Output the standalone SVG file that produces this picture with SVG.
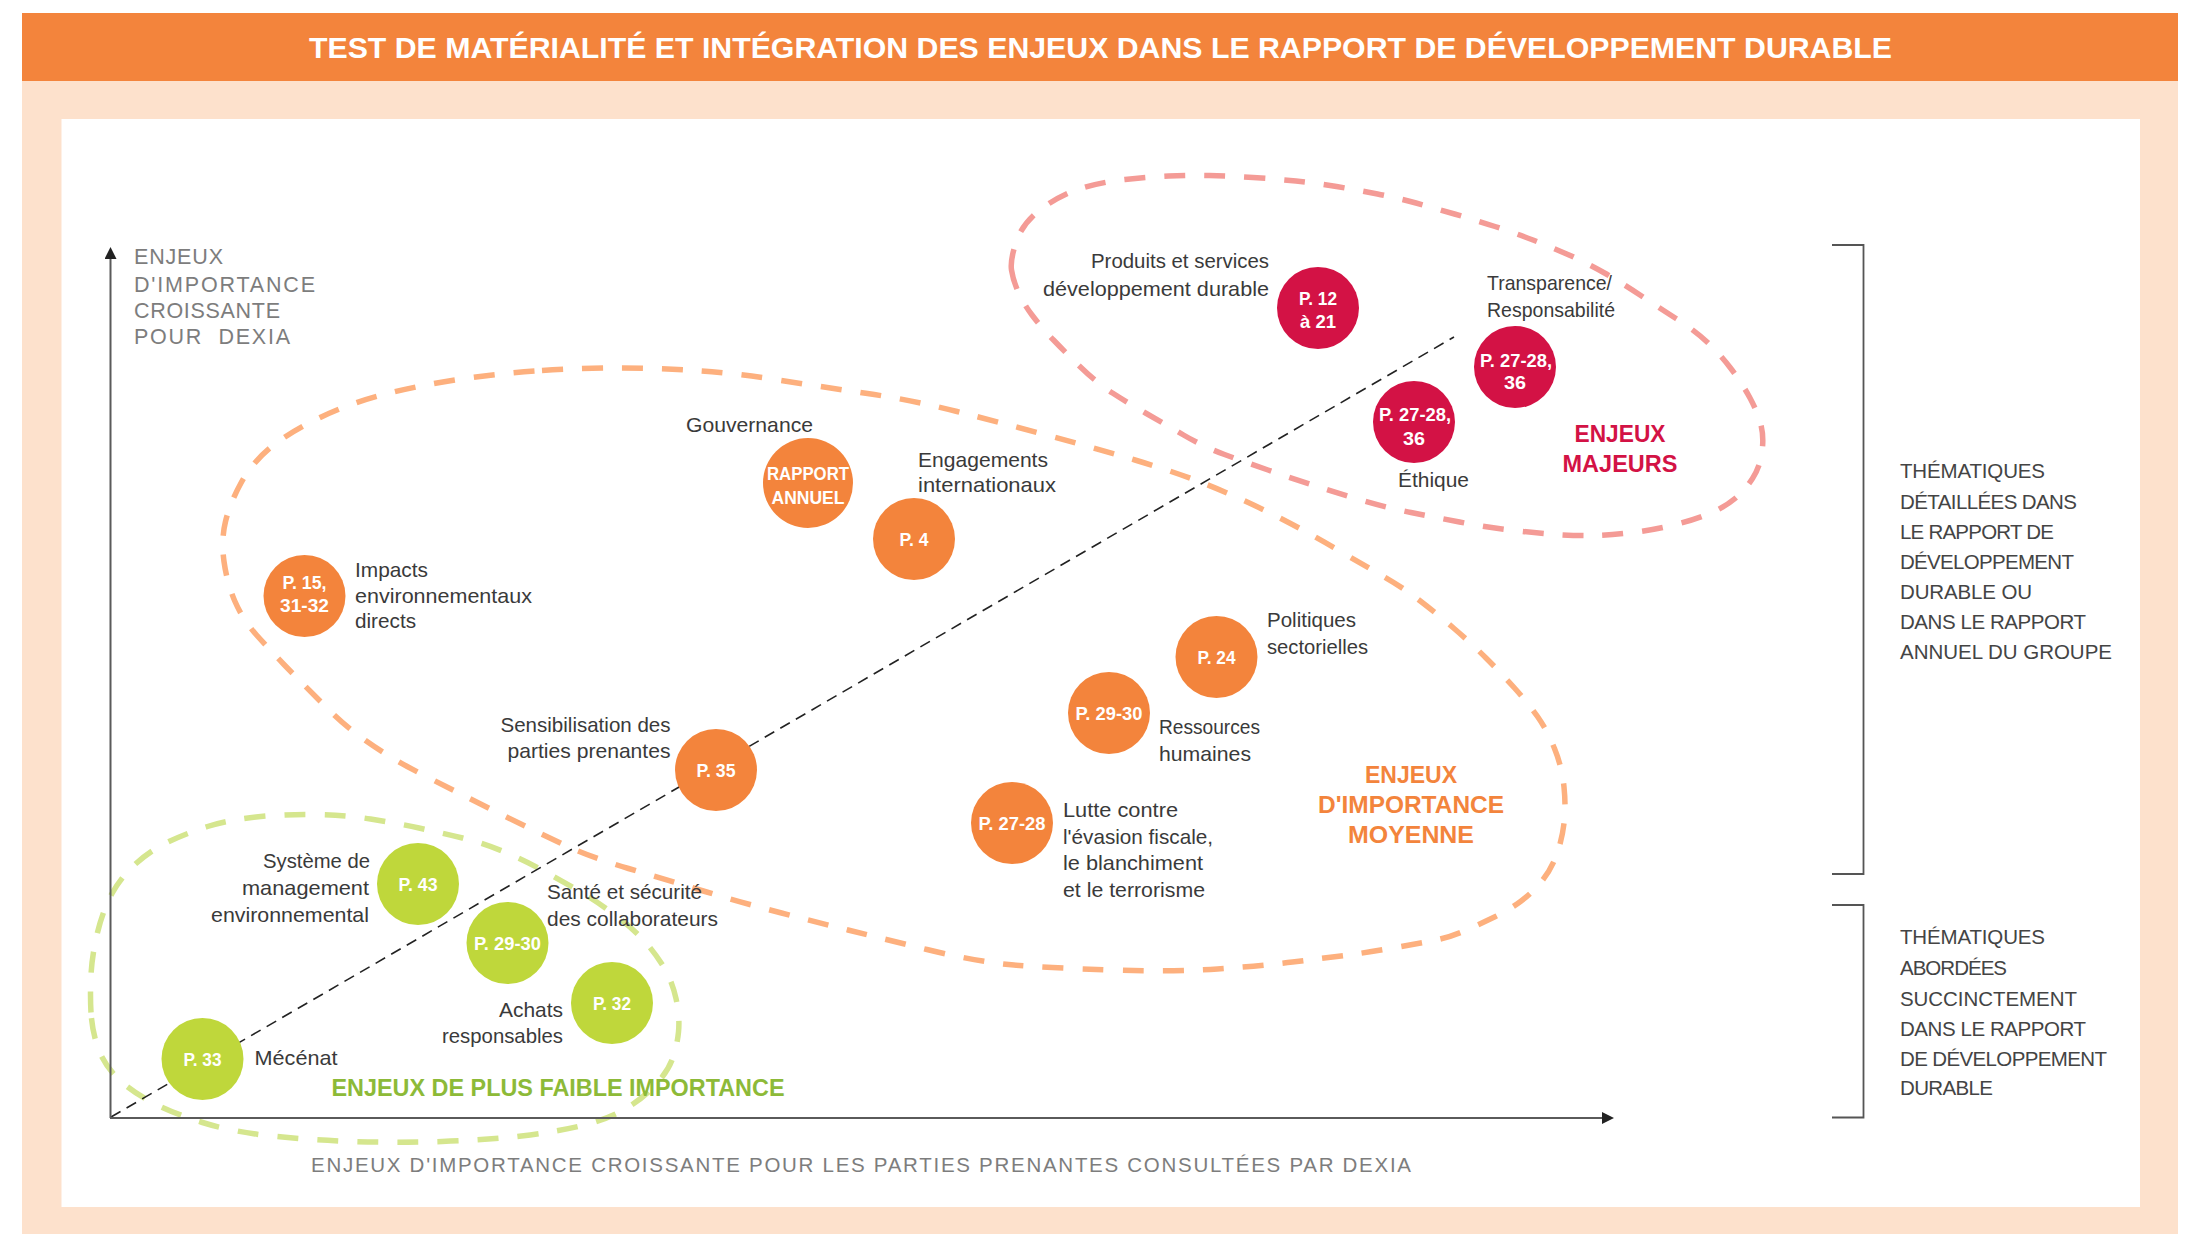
<svg xmlns="http://www.w3.org/2000/svg" width="2192" height="1234" viewBox="0 0 2192 1234">
<style>
.lbl{font-family:"Liberation Sans",Arial,sans-serif;font-size:21px;fill:#3a3a3a}
.ct{font-family:"Liberation Sans",Arial,sans-serif;font-size:19px;font-weight:bold;fill:#ffffff;text-anchor:middle}
.grp{font-family:"Liberation Sans",Arial,sans-serif;font-size:24px;font-weight:bold;text-anchor:middle}
.ax{font-family:"Liberation Sans",Arial,sans-serif;font-size:21.5px;fill:#7d7d7d}
.rt{font-family:"Liberation Sans",Arial,sans-serif;font-size:20.5px;fill:#444444}
.blob{fill:none;stroke-width:5.5;stroke-dasharray:21 19}
.red{fill:#D31245}
.org{fill:#F3843C}
.grn{fill:#BFD73B}
</style>
<defs>
<marker id="arr" viewBox="0 0 12 12" refX="0" refY="6" markerWidth="12" markerHeight="12" markerUnits="userSpaceOnUse" orient="auto"><path d="M0,0 L12,6 L0,12 Z" fill="#222"/></marker>
</defs>
<rect x="0" y="0" width="2192" height="1234" fill="#ffffff"/>
<rect x="22" y="81" width="2156" height="1153" fill="#FDE1CC"/>
<rect x="22" y="13" width="2156" height="68" fill="#F3843C"/>
<rect x="61.5" y="119" width="2078.5" height="1088" fill="#ffffff"/>
<text x="309" y="58" textLength="1583" lengthAdjust="spacingAndGlyphs" style="font-family:'Liberation Sans',Arial,sans-serif;font-size:29px;font-weight:bold;fill:#ffffff">TEST DE MATÉRIALITÉ ET INTÉGRATION DES ENJEUX DANS LE RAPPORT DE DÉVELOPPEMENT DURABLE</text>

<g id="zones">
<path id="zone-moyenne" class="blob" stroke="#FDB07E" d="M542,370.5 Q582,368 620,368 Q658,368 696,370.5 Q734,373 778.5,380 Q823,387 867.5,393.5 Q912,400 957,411.5 Q1002,423 1052,436.5 Q1102,450 1135,460 Q1168,470 1191,478.5 Q1214,487 1239.5,498.5 Q1265,510 1290.5,523.5 Q1316,537 1341.5,552 Q1367,567 1384.5,577 Q1402,587 1419,600 Q1436,613 1453.5,628 Q1471,643 1486,658 Q1501,673 1514.5,688 Q1528,703 1537.5,716.5 Q1547,730 1554.5,748.5 Q1562,767 1564,787 Q1566,807 1564,823.5 Q1562,840 1556.5,855 Q1551,870 1541.5,881.5 Q1532,893 1520.5,901.5 Q1509,910 1495.5,916.5 Q1482,923 1466.5,930 Q1451,937 1436,940 Q1421,943 1392.5,948 Q1364,953 1344.5,955.5 Q1325,958 1292.5,962 Q1260,966 1217.5,969 Q1175,972 1112.5,970 Q1050,968 1014,965 Q978,962 927,949.5 Q876,937 848,930 Q820,923 781.5,913 Q743,903 705,891.5 Q667,880 628.5,868.5 Q590,857 564.5,845 Q539,833 508.5,818 Q478,803 420.5,773.5 Q363,744 329.5,710.5 Q296,677 283,663.5 Q270,650 256.5,635 Q243,620 235,601.5 Q227,583 224,561.5 Q221,540 225.5,521.5 Q230,503 241,483 Q252,463 270,448 Q288,433 319,418 Q350,403 385.5,394 Q421,385 461.5,379 Q502,373 542,370.5 Z"/>
<path id="zone-majeurs" class="blob" stroke="#F49B96" d="M1011.5,270 Q1010,260 1016.5,241 Q1023,222 1042.5,208 Q1062,194 1082,188 Q1102,182 1125,179.5 Q1148,177 1168.5,176 Q1189,175 1209.5,175.5 Q1230,176 1253,177.5 Q1276,179 1296,181 Q1316,183 1336.5,186.5 Q1357,190 1377.5,194 Q1398,198 1416,203 Q1434,208 1454.5,214 Q1475,220 1495,226.5 Q1515,233 1533,240 Q1551,247 1569,255 Q1587,263 1604.5,273 Q1622,283 1640,295 Q1658,307 1676,318.5 Q1694,330 1706.5,341.5 Q1719,353 1730.5,368 Q1742,383 1750,398 Q1758,413 1761,425 Q1764,437 1762,452 Q1760,467 1752.5,478.5 Q1745,490 1735,498.5 Q1725,507 1709.5,513.5 Q1694,520 1673.5,525 Q1653,530 1632.5,532.5 Q1612,535 1594.5,535.5 Q1577,536 1556.5,534.5 Q1536,533 1510.5,530 Q1485,527 1459.5,522 Q1434,517 1411,512.5 Q1388,508 1362.5,500.5 Q1337,493 1314,485.5 Q1291,478 1268,470 Q1245,462 1224.5,454.5 Q1204,447 1183.5,435 Q1163,423 1145.5,413 Q1128,403 1112.5,393 Q1097,383 1081.5,368 Q1066,353 1053.5,340 Q1041,327 1032,315 Q1023,303 1018,291.5 Q1013,280 1011.5,270 Z"/>
<path id="zone-faible" class="blob" stroke="#D5E68E" d="M91,1012.5 Q90,995 91,975 Q92,955 97.5,932.5 Q103,910 112,893.5 Q121,877 136,863.5 Q151,850 169,841.5 Q187,833 207.5,826.5 Q228,820 256,817 Q284,814 314.5,814.5 Q345,815 370.5,819 Q396,823 419,828 Q442,833 462.5,838 Q483,843 503.5,851.5 Q524,860 542,870 Q560,880 577.5,890 Q595,900 613,913.5 Q631,927 642,938.5 Q653,950 662.5,965 Q672,980 676,998.5 Q680,1017 678.5,1032 Q677,1047 672,1060 Q667,1073 654,1086.5 Q641,1100 623.5,1110 Q606,1120 580.5,1126 Q555,1132 521.5,1136 Q488,1140 442,1141.5 Q396,1143 353,1141.5 Q310,1140 271.5,1136 Q233,1132 202.5,1122.5 Q172,1113 150.5,1101.5 Q129,1090 116,1076.5 Q103,1063 97.5,1046.5 Q92,1030 91,1012.5 Z"/>
</g>

<g id="connectors">
<line x1="111" y1="1117" x2="1454" y2="337" stroke="#222" stroke-width="1.6" stroke-dasharray="11 7"/>
<line x1="110.5" y1="1118" x2="110.5" y2="259" stroke="#5a5a5a" stroke-width="2" marker-end="url(#arr)"/>
<line x1="110" y1="1118" x2="1602" y2="1118" stroke="#5a5a5a" stroke-width="2" marker-end="url(#arr)"/>
<path d="M1832,245 H1863.5 V874 H1832" fill="none" stroke="#555" stroke-width="1.8"/>
<path d="M1832,905 H1863.5 V1117.5 H1832" fill="none" stroke="#555" stroke-width="1.8"/>
</g>

<g id="axis-labels">
<text class="ax" x="134" y="264" textLength="89" lengthAdjust="spacing">ENJEUX</text>
<text class="ax" x="134" y="291.5" textLength="181" lengthAdjust="spacing">D'IMPORTANCE</text>
<text class="ax" x="134" y="317.5" textLength="146" lengthAdjust="spacing">CROISSANTE</text>
<text class="ax" x="134" y="343.5" textLength="156" lengthAdjust="spacing" xml:space="preserve">POUR  DEXIA</text>
<text class="ax" x="311" y="1172" textLength="1100" lengthAdjust="spacing" style="font-size:20.5px">ENJEUX D'IMPORTANCE CROISSANTE POUR LES PARTIES PRENANTES CONSULTÉES PAR DEXIA</text>
</g>

<g id="legend-detaillees">
<text class="rt" x="1900" y="478" textLength="145" lengthAdjust="spacing">THÉMATIQUES</text>
<text class="rt" x="1900" y="508.5" textLength="177" lengthAdjust="spacing">DÉTAILLÉES DANS</text>
<text class="rt" x="1900" y="538.5" textLength="154" lengthAdjust="spacing">LE RAPPORT DE</text>
<text class="rt" x="1900" y="569" textLength="174" lengthAdjust="spacing">DÉVELOPPEMENT</text>
<text class="rt" x="1900" y="598.5" textLength="132" lengthAdjust="spacing">DURABLE OU</text>
<text class="rt" x="1900" y="629" textLength="186" lengthAdjust="spacing">DANS LE RAPPORT</text>
<text class="rt" x="1900" y="659" textLength="212" lengthAdjust="spacing">ANNUEL DU GROUPE</text>
</g>
<g id="legend-succinctes">
<text class="rt" x="1900" y="944" textLength="145" lengthAdjust="spacing">THÉMATIQUES</text>
<text class="rt" x="1900" y="975" textLength="107" lengthAdjust="spacing">ABORDÉES</text>
<text class="rt" x="1900" y="1005.5" textLength="177" lengthAdjust="spacing">SUCCINCTEMENT</text>
<text class="rt" x="1900" y="1035.5" textLength="186" lengthAdjust="spacing">DANS LE RAPPORT</text>
<text class="rt" x="1900" y="1065.5" textLength="207" lengthAdjust="spacing">DE DÉVELOPPEMENT</text>
<text class="rt" x="1900" y="1095" textLength="93" lengthAdjust="spacing">DURABLE</text>
</g>

<g id="group-titles">
<text class="grp" x="1620" y="442" fill="#D31245" textLength="91" lengthAdjust="spacingAndGlyphs">ENJEUX</text>
<text class="grp" x="1620" y="472" fill="#D31245" textLength="115" lengthAdjust="spacingAndGlyphs">MAJEURS</text>
<text class="grp" x="1411" y="783" fill="#F3843C" textLength="92" lengthAdjust="spacingAndGlyphs">ENJEUX</text>
<text class="grp" x="1411" y="813" fill="#F3843C" textLength="186" lengthAdjust="spacingAndGlyphs">D'IMPORTANCE</text>
<text class="grp" x="1411" y="843" fill="#F3843C" textLength="126" lengthAdjust="spacingAndGlyphs">MOYENNE</text>
<text class="grp" x="558" y="1096" fill="#8DBA38" textLength="453" lengthAdjust="spacingAndGlyphs">ENJEUX DE PLUS FAIBLE IMPORTANCE</text>
</g>

<g id="node-produits">
<circle class="red" cx="1318" cy="308" r="41"/>
<text class="ct" x="1318" y="305" textLength="38" lengthAdjust="spacingAndGlyphs">P. 12</text>
<text class="ct" x="1318" y="328" textLength="36" lengthAdjust="spacingAndGlyphs">à 21</text>
<text class="lbl" x="1091" y="268" textLength="178" lengthAdjust="spacingAndGlyphs">Produits et services</text>
<text class="lbl" x="1043" y="296" textLength="226" lengthAdjust="spacingAndGlyphs">développement durable</text>
</g>
<g id="node-transparence">
<circle class="red" cx="1515" cy="367" r="41"/>
<text class="ct" x="1516" y="367" textLength="72" lengthAdjust="spacingAndGlyphs">P. 27-28,</text>
<text class="ct" x="1515" y="389" textLength="22" lengthAdjust="spacingAndGlyphs">36</text>
<text class="lbl" x="1487" y="290" textLength="125" lengthAdjust="spacingAndGlyphs">Transparence/</text>
<text class="lbl" x="1487" y="317" textLength="128" lengthAdjust="spacingAndGlyphs">Responsabilité</text>
</g>
<g id="node-ethique">
<circle class="red" cx="1414" cy="422" r="41"/>
<text class="ct" x="1415" y="421" textLength="72" lengthAdjust="spacingAndGlyphs">P. 27-28,</text>
<text class="ct" x="1414" y="445" textLength="22" lengthAdjust="spacingAndGlyphs">36</text>
<text class="lbl" x="1398" y="487" textLength="71" lengthAdjust="spacingAndGlyphs">Éthique</text>
</g>
<g id="node-gouvernance">
<circle class="org" cx="808" cy="483" r="45"/>
<text class="ct" x="808" y="480" textLength="82" lengthAdjust="spacingAndGlyphs">RAPPORT</text>
<text class="ct" x="808" y="504" textLength="73" lengthAdjust="spacingAndGlyphs">ANNUEL</text>
<text class="lbl" x="686" y="432" textLength="127" lengthAdjust="spacingAndGlyphs">Gouvernance</text>
</g>
<g id="node-engagements">
<circle class="org" cx="914" cy="539" r="41"/>
<text class="ct" x="914" y="546" textLength="29" lengthAdjust="spacingAndGlyphs">P. 4</text>
<text class="lbl" x="918" y="467" textLength="130" lengthAdjust="spacingAndGlyphs">Engagements</text>
<text class="lbl" x="918" y="492" textLength="138" lengthAdjust="spacingAndGlyphs">internationaux</text>
</g>
<g id="node-impacts">
<circle class="org" cx="304.5" cy="596" r="41"/>
<text class="ct" x="304.5" y="589" textLength="44" lengthAdjust="spacingAndGlyphs">P. 15,</text>
<text class="ct" x="304.5" y="612" textLength="49" lengthAdjust="spacingAndGlyphs">31-32</text>
<text class="lbl" x="355" y="577" textLength="73" lengthAdjust="spacingAndGlyphs">Impacts</text>
<text class="lbl" x="355" y="603" textLength="177" lengthAdjust="spacingAndGlyphs">environnementaux</text>
<text class="lbl" x="355" y="628" textLength="61" lengthAdjust="spacingAndGlyphs">directs</text>
</g>
<g id="node-sensibilisation">
<circle class="org" cx="716" cy="770" r="41"/>
<text class="ct" x="716" y="777" textLength="39" lengthAdjust="spacingAndGlyphs">P. 35</text>
<text class="lbl" x="500.5" y="732" textLength="170" lengthAdjust="spacingAndGlyphs">Sensibilisation des</text>
<text class="lbl" x="507.5" y="758" textLength="163" lengthAdjust="spacingAndGlyphs">parties prenantes</text>
</g>
<g id="node-politiques">
<circle class="org" cx="1216.5" cy="657" r="41"/>
<text class="ct" x="1216.5" y="663.5" textLength="38" lengthAdjust="spacingAndGlyphs">P. 24</text>
<text class="lbl" x="1267" y="627" textLength="89" lengthAdjust="spacingAndGlyphs">Politiques</text>
<text class="lbl" x="1267" y="654" textLength="101" lengthAdjust="spacingAndGlyphs">sectorielles</text>
</g>
<g id="node-ressources">
<circle class="org" cx="1109" cy="713" r="41"/>
<text class="ct" x="1109" y="719.5" textLength="67" lengthAdjust="spacingAndGlyphs">P. 29-30</text>
<text class="lbl" x="1159" y="734" textLength="101" lengthAdjust="spacingAndGlyphs">Ressources</text>
<text class="lbl" x="1159" y="761" textLength="92" lengthAdjust="spacingAndGlyphs">humaines</text>
</g>
<g id="node-lutte">
<circle class="org" cx="1012" cy="823" r="41"/>
<text class="ct" x="1012" y="830" textLength="67" lengthAdjust="spacingAndGlyphs">P. 27-28</text>
<text class="lbl" x="1063" y="817" textLength="115" lengthAdjust="spacingAndGlyphs">Lutte contre</text>
<text class="lbl" x="1063" y="844" textLength="150" lengthAdjust="spacingAndGlyphs">l'évasion fiscale,</text>
<text class="lbl" x="1063" y="870" textLength="140" lengthAdjust="spacingAndGlyphs">le blanchiment</text>
<text class="lbl" x="1063" y="897" textLength="142" lengthAdjust="spacingAndGlyphs">et le terrorisme</text>
</g>
<g id="node-systeme">
<circle class="grn" cx="418" cy="884" r="41"/>
<text class="ct" x="418" y="890.5" textLength="39" lengthAdjust="spacingAndGlyphs">P. 43</text>
<text class="lbl" x="263" y="868" textLength="107" lengthAdjust="spacingAndGlyphs">Système de</text>
<text class="lbl" x="242" y="895" textLength="127" lengthAdjust="spacingAndGlyphs">management</text>
<text class="lbl" x="211" y="922" textLength="158" lengthAdjust="spacingAndGlyphs">environnemental</text>
</g>
<g id="node-sante">
<circle class="grn" cx="507.5" cy="943" r="41"/>
<text class="ct" x="507.5" y="949.5" textLength="67" lengthAdjust="spacingAndGlyphs">P. 29-30</text>
<text class="lbl" x="547" y="899" textLength="155" lengthAdjust="spacingAndGlyphs">Santé et sécurité</text>
<text class="lbl" x="547" y="926" textLength="171" lengthAdjust="spacingAndGlyphs">des collaborateurs</text>
</g>
<g id="node-achats">
<circle class="grn" cx="612" cy="1003" r="41"/>
<text class="ct" x="612" y="1009.5" textLength="38" lengthAdjust="spacingAndGlyphs">P. 32</text>
<text class="lbl" x="499" y="1017" textLength="64" lengthAdjust="spacingAndGlyphs">Achats</text>
<text class="lbl" x="442" y="1043" textLength="121" lengthAdjust="spacingAndGlyphs">responsables</text>
</g>
<g id="node-mecenat">
<circle class="grn" cx="202.5" cy="1059" r="41"/>
<text class="ct" x="202.5" y="1065.5" textLength="38" lengthAdjust="spacingAndGlyphs">P. 33</text>
<text class="lbl" x="254.5" y="1065" textLength="83" lengthAdjust="spacingAndGlyphs">Mécénat</text>
</g>
</svg>
